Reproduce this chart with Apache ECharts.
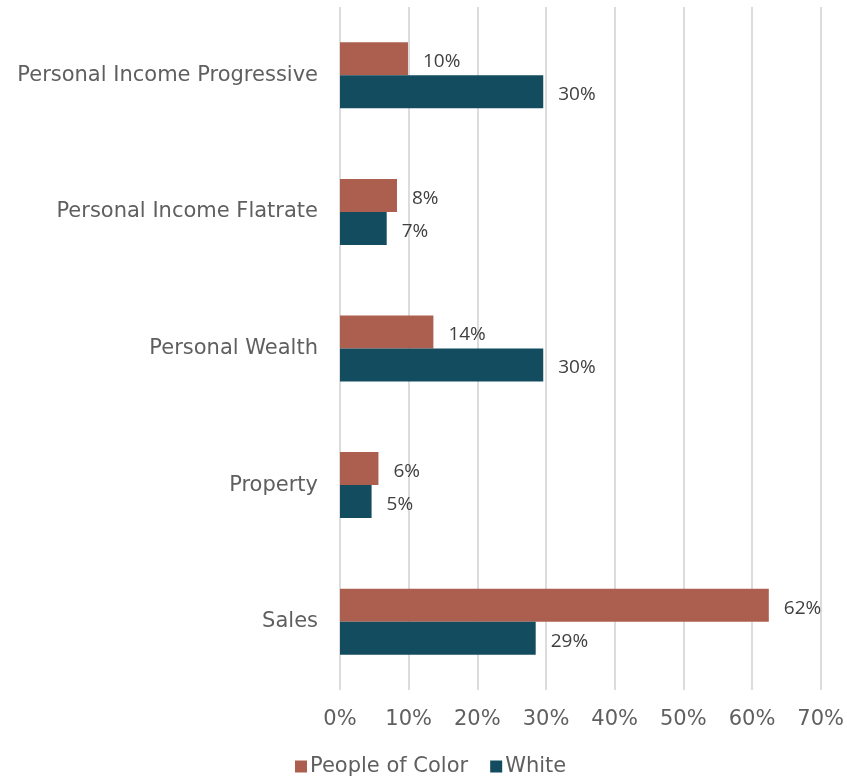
<!DOCTYPE html>
<html>
<head>
<meta charset="utf-8">
<script src="https://cdn.jsdelivr.net/npm/echarts@6/dist/echarts.min.js"></script>
<style>
  html, body { margin: 0; padding: 0; background: #fff; }
  #chart { width: 847px; height: 780px; }
</style>
</head>
<body>
<div id="chart"></div>
<script>
// categories top to bottom
const categories = ["Personal Income Progressive", "Personal Income Flatrate", "Personal Wealth", "Property", "Sales"];
// shares in percent
const peopleOfColor = [9.9, 8.3, 13.6, 5.6, 62.45];
const white = [29.6, 6.8, 29.6, 4.6, 28.5];
const xTicks = [0, 10, 20, 30, 40, 50, 60, 70];

const axisFont = "DejaVu Sans";
const labelFont = "Open Sans";

const myChart = echarts.init(document.getElementById("chart"));

function barLabel() {
  return {
    show: true,
    position: "right",
    distance: 5,
    offset: [10, 3],
    fontFamily: labelFont,
    fontSize: 19,
    color: "#404040",
    formatter: p => Math.round(p.value) + "%"
  };
}

myChart.setOption({
  animation: false,
  grid: {
    left: 340,
    right: 25,
    top: 7,
    bottom: 90
  },
  legend: {
    bottom: -2,
    left: 290,
    itemWidth: 12,
    itemHeight: 12,
    itemGap: 22,
    icon: "rect",
    textStyle: {
      fontFamily: axisFont,
      fontSize: 21,
      color: "#5f5f5f",
      padding: [0, 0, 0, -2]
    },
    data: ["People of Color", "White"]
  },
  xAxis: {
    type: "value",
    min: xTicks[0],
    max: xTicks[xTicks.length - 1],
    interval: 10,
    axisLine: { show: false },
    axisTick: { show: false },
    splitLine: { lineStyle: { color: "#dcdcdc", width: 2 } },
    axisLabel: {
      margin: 19,
      fontFamily: axisFont,
      fontSize: 21,
      color: "#5f5f5f",
      formatter: v => v + "%"
    }
  },
  yAxis: {
    type: "category",
    inverse: true,
    data: categories,
    axisLine: { show: false },
    axisTick: { show: false },
    axisLabel: {
      margin: 22,
      fontFamily: axisFont,
      fontSize: 21,
      color: "#5f5f5f"
    }
  },
  series: [
    {
      name: "People of Color",
      type: "bar",
      data: peopleOfColor,
      barWidth: 33,
      barGap: "0%",
      itemStyle: { color: "#AD5F4F" },
      label: barLabel()
    },
    {
      name: "White",
      type: "bar",
      data: white,
      barWidth: 33,
      barGap: "0%",
      itemStyle: { color: "#134B5F" },
      label: barLabel()
    }
  ]
});
</script>
</body>
</html>
